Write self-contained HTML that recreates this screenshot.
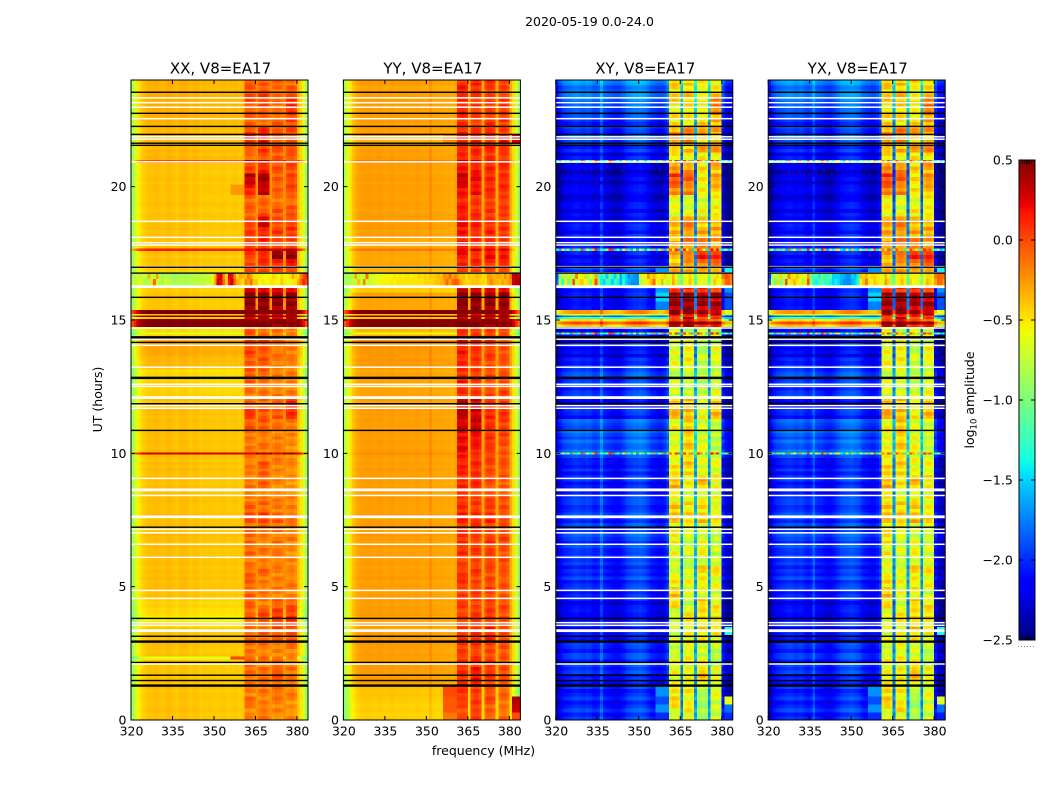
<!DOCTYPE html>
<html lang="en">
<head>
<meta charset="utf-8">
<style>
html,body{margin:0;padding:0;background:#fff;width:1050px;height:800px;overflow:hidden}
svg{display:block}
text{font-family:"DejaVu Sans","Liberation Sans",sans-serif;fill:#000}
</style>
</head>
<body>
<svg id="figure" xmlns="http://www.w3.org/2000/svg" width="1050" height="800" viewBox="0 0 1050 800">
  <text x="589.5" y="26" font-size="12.5" text-anchor="middle">2020-05-19 0.0-24.0</text>
  <text x="0" y="0" font-size="12.5" text-anchor="middle" transform="translate(102,399.5) rotate(-90)">UT (hours)</text>
  <text x="483.5" y="755" font-size="12.5" text-anchor="middle">frequency (MHz)</text>
  <text x="0" y="0" font-size="12.5" text-anchor="middle" transform="translate(974,400) rotate(-90)">log<tspan font-size="8.5" dy="2.5">10</tspan><tspan dy="-2.5"> amplitude</tspan></text>
  <g id="panels"></g>
  <g id="colorbar"></g>
</svg>
<script>
// ---- chart data: axis ticks and labels ----
const panelTitles = ["XX, V8=EA17", "YY, V8=EA17", "XY, V8=EA17", "YX, V8=EA17"];
const freqTicks = [320, 335, 350, 365, 380];
const hourTicks = [0, 5, 10, 15, 20];
const colorTicks = [0.5, 0.0, -0.5, -1.0, -1.5, -2.0, -2.5];
const colorTickLabels = ["0.5", "0.0", "\u22120.5", "\u22121.0", "\u22121.5", "\u22122.0", "\u22122.5"];

// ---- chart data: flagged integrations (hours UT) ----
const whiteGapHours = [23.33,23.15,22.98,22.55,21.87,21.78,20.93,18.70,18.10,17.90,17.81,17.0,16.77,14.70,14.28,14.05,13.23,12.59,12.51,11.79,11.69,9.06,8.42,7.15,7.02,6.59,6.10,4.86,4.56,3.65,3.55,2.10];
const whiteWideGapHours = [16.25,12.09,8.63,7.62,3.35];
const blackRowHours = [23.54,22.75,22.26,21.96,21.63,21.55,16.98,16.76,15.85,14.16,11.86,10.86,7.23,3.81,3.14,2.16,1.68,1.48];
const blackWideRowHours = [14.35,12.83,2.94,1.29];

// ---- chart data: frequency channels, 320..383 MHz ----
const channelMHz = [320,321,322,323,324,325,326,327,328,329,330,331,332,333,334,335,336,337,338,339,340,341,342,343,344,345,346,347,348,349,350,351,352,353,354,355,356,357,358,359,360,361,362,363,364,365,366,367,368,369,370,371,372,373,374,375,376,377,378,379,380,381,382,383];
// 0 = out of band, 1-4 = sub-bands, 5 = just below band, 6 = above band
const regionOfChannel = [0,0,0,0,0,0,0,0,0,0,0,0,0,0,0,0,0,0,0,0,0,0,0,0,0,0,0,0,0,0,0,0,0,0,0,0,5,5,5,5,5,1,1,1,1,0,2,2,2,2,0,3,3,3,3,0,4,4,4,4,0,6,6,6];

// ---- chart data: spectral shape per product (log10 offsets) ----
const xxProfile = [-.5,-.35,-.18,-.1,-.05,-.02,0,0,.01,.01,0,-.02,0,.02,.01,-.01,-.03,0,.01,.01,0,-.03,-.01,0,-.02,-.04,-.02,-.03,-.02,-.03,-.03,-.04,-.02,-.02,-.03,-.04,-.03,-.02,-.03,-.04,-.02,.02,.03,.02,-.02,.15,-.02,.03,.03,-.03,.15,-.02,.03,.02,-.02,.16,-.02,.02,.03,-.03,0,-.12,-.3,-.5];
const yyProfile = [-.55,-.4,-.25,-.12,-.05,-.02,0,0,.01,.01,0,0,.01,.01,0,-.01,0,.01,0,-.01,0,0,0,0,-.01,-.01,0,0,-.01,-.01,-.02,.05,-.01,-.02,-.02,-.02,-.03,-.03,-.03,-.04,-.02,.02,.04,.04,0,-.02,-.01,.03,.03,-.02,-.02,-.02,.04,.03,-.02,-.02,-.02,.03,.03,-.03,-.05,-.2,-.4,-.6];
const xyProfile = [-.3,-.15,-.05,0,.02,.05,.08,.1,.08,.05,.05,.08,.05,0,-.02,.02,.22,0,-.02,-.05,-.08,-.1,-.1,-.08,-.02,.05,.1,.12,.15,.15,.18,.15,.12,.05,-.02,-.05,-.08,-.1,-.1,-.05,.1,-.05,.02,.02,-.06,.3,-.05,.02,.02,-.06,.42,-.05,.02,.02,-.06,.38,-.05,.02,.02,-.06,-.05,-.25,-.3,-.3];
const yxProfile = [-.32,-.16,-.06,0,.03,.05,.07,.1,.09,.06,.04,.08,.06,.01,-.03,.02,.2,.01,-.02,-.04,-.08,-.11,-.1,-.07,-.01,.05,.1,.13,.14,.16,.17,.14,.12,.06,-.02,-.05,-.07,-.1,-.1,-.04,.08,-.05,.02,.02,-.06,.32,-.05,.02,.02,-.06,.4,-.05,.02,.02,-.06,.36,-.05,.02,.02,-.06,-.06,-.26,-.3,-.32];

// ---- chart data: fine row-to-row texture ----
const rowTexture = [.4,-.6,.9,-.2,-1,.5,.1,-.7,1,-.4,.3,-.9,.6,-.1,.8,-.5,-.3,.7,-.8,.2,1,-.6,-.2,.5,-.9,.4,.8,-.3,-.7,.1,.6];

// ---- chart data: irregular-row levels, read per row from the picture ----
const xxStormA = [-.8,-.75,-.7,-.6,-.75,-.85,-.8,-.5,-.1,-.7,-.75,-.9,-.6,-.75,-.8,-.85,-.85,-.8,-.8,-.85,-.8,-.8,-.75,-.8,-.8,-.75,-.8,-.7,-.7,-.65,-.3,.3,.2,-.1,-.4,.15,.3,-.1,-.3,-.4,-.5,-.2,-.3,-.1,-.4,-.4,-.6,-.5,-.55,-.6,-.5,-.5,-.55,-.55,-.4,-.5,-.6,-.6,-.5,-.5,-.3,-.1,.15,0];
const xxStormB = [-.85,-.8,-.75,-.8,-.7,-.8,-.35,-.75,-.8,-.3,-.8,-.85,-.8,-.8,-.85,-.9,-.85,-.85,-.8,-.85,-.85,-.8,-.8,-.8,-.75,-.8,-.8,-.75,-.7,-.7,-.35,.2,.3,-.2,-.45,.25,.2,-.2,-.45,-.3,-.35,-.4,-.15,-.3,-.5,-.5,-.5,-.55,-.6,-.55,-.55,-.45,-.5,-.6,-.45,-.55,-.55,-.5,-.3,-.45,-.5,-.2,0,.1];
const yyStormA = [-.85,-.85,-.8,-.75,-.7,-.4,-.75,-.2,-.7,-.75,-.65,-.65,-.6,-.55,-.55,-.55,-.55,-.5,-.55,-.5,-.5,-.5,-.5,-.5,-.5,-.5,-.5,-.5,-.5,-.45,-.45,-.45,-.45,-.4,-.4,-.35,-.3,-.1,-.3,-.1,-.05,-.1,-.3,-.4,-.45,-.45,-.4,-.4,-.4,-.45,-.45,-.5,-.3,-.2,-.3,-.35,-.4,-.3,-.35,-.3,-.2,.3,.35,.35];
const yyStormB = [-.9,-.85,-.85,-.8,-.3,-.75,-.7,-.75,-.1,-.7,-.7,-.65,-.6,-.6,-.6,-.55,-.55,-.55,-.5,-.55,-.5,-.55,-.5,-.5,-.55,-.5,-.5,-.45,-.5,-.45,-.5,-.4,-.45,-.4,-.35,-.4,-.2,-.25,-.1,-.3,-.2,-.3,-.4,-.35,-.5,-.4,-.45,-.4,-.35,-.4,-.5,-.45,-.25,-.3,-.35,-.3,-.3,-.35,-.2,-.35,-.1,.35,.4,.3];
const xyStormA = [-1.8,-.8,-1.3,-.6,-1,-.9,0,-.7,-.5,-.4,-.6,-.7,-.9,-.5,0,-1,-1.4,-1.5,-1.2,-1.3,-1.5,-1.2,-1.4,-1.6,-1.3,-1.5,-1.6,-1.7,-1.7,-1.7,-.8,-.7,-.65,-.5,-.35,-.1,-.6,-.7,-.35,-.65,-.8,-.55,-.3,-.5,-.9,-1.1,-.55,-.6,-.4,-.55,-1.2,-.55,-.6,-.7,-.7,-1.1,-.65,-.4,-.55,-.6,-.35,-.1,-.05,-.2];
const xyStormB = [-1.9,-1,-.8,-.9,-.5,-.8,-.85,-.2,-.6,-.65,-.45,-.9,-.6,-.8,-.3,-1.2,-1.3,-1.1,-1.5,-1,-1.3,-1.5,-1.1,-1.6,-1.4,-1.5,-1.7,-1.6,-1.7,-1.7,-.7,-.65,-.55,-.25,-.5,-.35,-.5,-.55,-.5,-.45,-.65,-.7,-.35,-.65,-.8,-1.1,-.6,-.55,-.45,-.6,-1.1,-.6,-.55,-.6,-.55,-1.1,-.7,-.5,-.45,-.7,-.15,0,-.1,-.15];
const yxStormA = [-1.9,-.7,-1.1,-.45,-1,-.85,0,-.7,-.5,-.35,-.5,-.55,-.85,-.5,0,-.9,-1.3,-1.4,-1.2,-1.1,-1.3,-1.2,-1.4,-1.5,-1.4,-1.5,-1.6,-1.7,-1.7,-1.7,-1.6,-1.5,-1.3,-.6,-.4,-.15,-.5,-.6,-.4,-.5,-.7,-.55,-.25,-.45,-.85,-1,-.55,-.5,-.35,-.55,-1.15,-.45,-.6,-.65,-.7,-1,-.55,-.35,-.45,-.55,-.3,-.1,-.1,-.25];
const yxStormB = [-2,-.95,-.75,-.85,-.45,-.75,-.75,-.2,-.5,-.5,-.4,-.75,-.55,-.65,-.25,-1.1,-1.2,-1.1,-1.4,-1,-1.2,-1.3,-1.1,-1.5,-1.5,-1.5,-1.6,-1.6,-1.7,-1.7,-1.5,-1.6,-1.4,-.4,-.45,-.35,-.55,-.45,-.45,-.5,-.55,-.65,-.35,-.55,-.85,-1.1,-.55,-.5,-.45,-.55,-1.1,-.55,-.55,-.55,-.55,-1.05,-.65,-.45,-.45,-.65,-.15,-.05,-.1,-.1];
const xyDottedRow = [-1.2,-1.6,-.5,-1.3,-.9,-1.6,-.3,-1.4,-1.1,0,-1.5,-.7,-1.3,-.4,.1,-1.6,-1.2,-1.4,-.9,.1,0,-1.5,-1.1,-1.6,-.7,-.3,-1.3,-1.5,-.6,-1.6,-.5,-1.2,-1.6,-.9,-1.4,-.3,-1.5,-1,-.3,-1.6,-.4,-.1,-.6,.1,-1.6,-.3,.1,-.5,-.2,-1.5,-.4,.1,-.2,-.6,-1.4,-.2,.2,-.3,.1,-1.3,-1.3,-.8,-1.5,-1.2];
const yxDottedRow = [-1.3,-.8,-1.5,-.4,-1.4,-1,-1.6,-.1,-1.3,-.6,-1.5,-.2,-1.2,-1.4,.1,-.9,-1.6,-.5,-1.3,.05,-.3,-1.6,-.9,-1.4,-.5,-.6,-1.4,-1.6,-.7,-1.5,-.4,-1.4,-1.5,-.7,-1.3,-.4,-1.4,-.7,-.1,-1.4,-.5,-.2,-.5,0,-1.5,-.4,0,-.4,-.3,-1.4,-.5,0,-.3,-.5,-1.3,-.3,.1,-.2,0,-1.2,-1.3,-.7,-1.5,-1.3];

// Row start hours (each row runs up to the next one; the last ends at 24)
const rowStartHours = [0,.3,.6,.9,1.3,1.6,2,2.28,2.4,2.8,3.2,3.5,3.7,3.9,4.2,4.6,5,5.4,5.8,6.2,6.6,7,7.4,7.8,8.2,8.7,9.2,9.7,9.96,10.04,10.4,10.9,11.3,11.7,12.1,12.5,12.85,13.2,13.6,14,14.3,14.46,14.55,14.75,14.85,14.95,15.05,15.12,15.18,15.24,15.38,15.7,16.05,16.3,16.55,16.8,17,17.3,17.6,17.7,18.1,18.5,18.9,19.3,19.7,20.1,20.5,20.9,21.02,21.3,21.65,21.95,22.3,22.7,23.1,23.5,23.8];

// Each row: [out-of-band, sub-band 1, 2, 3, 4, optional below-band, optional above-band], or 64 channel values
const xxLevels = [
[-.33,-.12,-.03,-.15,-.15],[-.33,-.15,-.12,-.12,-.18],[-.33,-.02,-.12,-.12,-.15],[-.33,-.12,-.08,-.05,-.12],
[-.33,-.1,-.08,0,-.1],[-.34,-.05,-.05,.05,-.08],[-.35,-.05,-.08,-.05,-.1],[-.55,0,-.08,-.1,-.15,.02],
[-.33,-.08,-.1,-.15,-.12],[-.33,-.05,-.05,0,.03],[-.33,-.02,0,.05,.05],[-.42,-.05,-.02,.08,.08],
[-.5,-.02,.05,.18,.22],[-.42,0,.05,.08,.08],[-.38,-.02,-.08,0,0],[-.32,-.05,-.1,-.12,-.12],
[-.32,-.02,-.1,-.1,-.1],[-.32,-.05,-.05,-.12,-.15],[-.32,-.1,-.12,-.08,-.15],[-.32,-.05,-.1,-.1,-.15],
[-.32,-.02,-.12,-.08,-.12],[-.32,-.05,-.1,-.05,-.12],[-.32,.05,.12,-.02,-.05],[-.32,-.02,-.05,-.1,-.12],
[-.32,-.1,-.08,-.12,-.15],[-.32,-.1,-.02,-.15,-.18],[-.32,-.12,0,-.12,-.15],[-.32,-.12,-.08,-.12,-.15],
[.3,.3,.3,.3,.3],[-.32,-.12,-.08,-.12,-.15],[-.32,-.08,-.1,-.12,-.15],[-.32,.02,0,-.05,-.08],
[-.32,.1,.05,0,.15],[-.33,-.05,-.05,-.02,.18],[-.38,-.08,-.05,-.1,-.12],[-.38,-.02,-.05,-.08,-.1],
[-.4,.02,-.02,-.1,-.12],[-.3,-.02,0,-.1,-.12],[-.25,.08,.02,-.08,-.12],[-.25,.05,.08,-.05,-.1],
[-.38,.02,-.05,-.1,-.12],[-.6,.1,0,-.1,-.1],[-.4,0,-.05,-.1,-.1],[.5,.45,.45,.45,.45],
[.5,.45,.45,.45,.45],[.5,.45,.45,.45,.45],[-.35,.3,.3,.3,.3],[.5,.45,.45,.45,.45],
[-.35,.3,.3,.3,.3],[.5,.45,.45,.45,.45],[-.34,.42,.45,.42,.42],[-.34,.45,.45,.42,.42],
[-.36,.28,.3,.25,.25],xxStormA,xxStormB,[-.38,.05,.05,.1,.1],
[-.33,.05,.12,.2,.22],[-.33,.1,.2,.45,.45],[.2,.25,.3,.35,.3],[-.33,.08,.18,.05,.1],
[-.33,.12,.2,.1,.12],[-.33,.05,.28,.08,.1],[-.33,-.02,.02,0,.02],[-.33,-.05,-.02,-.08,-.05],
[-.33,.22,.3,-.02,.05,-.25],[-.33,.32,.38,0,.08],[-.33,.1,.18,.02,.05],[.05,.25,.3,.2,.1],
[-.3,-.1,.05,.02,.05],[-.3,.02,.08,.02,0],[-.3,.22,.22,.05,-.02],[-.3,.05,.15,0,.08],
[-.28,0,-.05,0,.05],[-.27,-.02,.02,-.05,.18],[-.27,.05,.12,-.02,.12],[-.28,-.02,.02,-.05,0],
[-.28,.05,0,-.05,-.05]
];
const yyLevels = [
[-.38,0,.08,-.05,-.1,-.15,0],[-.38,-.02,.02,-.05,-.12,-.05,.3],[-.36,.05,.05,0,-.1,-.05,.38],[-.34,.08,.05,0,-.08,0],
[-.22,.08,.15,.05,-.02],[-.22,.1,.18,.1,0],[-.22,.05,.1,.05,0],[-.22,.05,.08,0,0],
[-.22,.05,.05,0,-.02],[-.22,.08,.1,.15,.02],[-.22,.1,.1,.12,.02],[-.22,.05,.08,.05,.02],
[-.24,.05,.1,.1,.05],[-.22,.05,.05,.05,0],[-.22,.05,.05,.05,0],[-.22,.02,.05,.03,-.03],
[-.22,.08,.02,.03,-.02],[-.22,.05,.05,0,-.03],[-.22,.02,.02,.05,0],[-.22,.08,.05,.02,0],
[-.22,.1,.03,.08,.03],[-.22,.08,.08,.05,0],[-.22,.15,.12,.1,.02],[-.22,.08,.05,.05,0],
[-.22,.08,.05,.02,-.02],[-.22,.1,.12,0,-.03],[-.22,.12,.1,.02,-.02],[-.22,.15,.1,.03,-.02],
[-.16,.15,.12,.05,0],[-.22,.2,.15,.05,0],[-.22,.22,.22,.08,.02],[-.22,.25,.28,.1,.05],
[-.22,.3,.3,.1,.08],[-.22,.28,.25,.08,.05],[-.24,.1,.1,.02,.02],[-.24,.12,.08,.02,0],
[-.24,.1,.05,0,-.02],[-.2,.1,.05,.02,-.02],[-.2,.15,.1,.05,-.02],[-.18,.15,.18,.08,0],
[-.25,.1,.08,.03,0],[-.55,.12,.1,.05,.02],[-.3,.08,.08,.02,.02],[.5,.45,.45,.45,.45],
[.5,.45,.45,.45,.45],[.5,.45,.45,.45,.45],[-.35,.3,.3,.3,.3],[.5,.45,.45,.45,.45],
[-.35,.3,.3,.3,.3],[.5,.45,.45,.45,.45],[-.24,.45,.45,.42,.42],[-.24,.48,.45,.42,.42],
[-.36,.3,.3,.25,.25],yyStormA,yyStormB,[-.3,.02,.02,.05,.05],
[-.25,.12,.1,.12,.1],[-.25,.18,.12,.2,.18],[-.1,.25,.25,.28,.2],[-.25,.15,.1,.1,.08],
[-.22,.18,.12,.12,.08],[-.22,.2,.15,.1,.08],[-.22,.15,.1,.05,.05],[-.22,.1,.08,.05,.05],
[-.22,.22,.18,.1,.1],[-.22,.28,.22,.12,.12],[-.22,.2,.15,.1,.1],[-.1,.25,.25,.2,.15],
[-.22,.1,.12,.1,.08],[-.22,.12,.1,.1,.05],[-.28,.18,.15,.12,.15,-.2,.25],[-.22,.1,.08,.08,.05],
[-.22,.1,.05,.08,.05],[-.22,.12,.05,.05,.08],[-.22,.1,.08,.05,.05],[-.24,.12,.1,.05,.03],
[-.22,.1,.12,.08,.05]
];
const xyLevels = [
[-1.95,-.65,-.5,-.75,-.65,-2,-2],[-1.95,-.5,-.45,-.75,-.6,-1.7,-1.8],[-1.95,-.35,-.55,-.85,-.6,-1.9,-.6],[-2,-.45,-.45,-.7,-.55,-1.7],
[-2,-.55,-.55,-.4,-.6],[-1.95,-.5,-.5,-.3,-.55],[-1.95,-.55,-.5,-.5,-.7],[-1.85,-.55,-.5,-.6,-.7],
[-1.95,-.65,-.5,-.65,-.7],[-2,-.6,-.55,-.45,-.55],[-2.05,-.6,-.55,-.4,-.45,-2.1,-1.3],[-2,-.6,-.5,-.5,-.5],
[-2.05,-.65,-.4,-.35,-.35],[-2.1,-.55,-.5,-.45,-.45],[-2.1,-.4,-.65,-.35,-.5],[-1.95,-.35,-.6,-.55,-.6],
[-1.95,-.45,-.5,-.45,-.55],[-1.95,-.6,-.65,-.4,-.45],[-1.95,-.6,-.7,-.6,-.65],[-1.9,-.55,-.6,-.5,-.6],
[-1.9,-.45,-.65,-.55,-.7],[-1.9,-.5,-.6,-.6,-.6],[-1.9,-.3,-.35,-.35,-.4],[-1.9,-.35,-.45,-.4,-.55],
[-1.95,-.5,-.55,-.55,-.55],[-1.95,-.3,-.5,-.3,-.5],[-2,-.45,-.4,-.55,-.55],[-1.9,-.55,-.35,-.6,-.6],
xyDottedRow,[-1.8,-.6,-.35,-.55,-.65],[-1.8,-.55,-.35,-.6,-.7],[-1.8,-.5,-.4,-.6,-.65],
[-2,-.3,-.25,-.55,-.3],[-2.05,-.4,-.35,-.6,-.35],[-1.95,-.6,-.6,-.65,-.6],[-1.85,-.65,-.65,-.7,-.65],
[-1.85,-.7,-.6,-.7,-.7],[-2,-.55,-.5,-.65,-.6],[-2.1,-.55,-.45,-.7,-.55],[-2.05,-.65,-.45,-.75,-.6],
[-2,-.65,-.65,-.7,-.65],xyDottedRow,[-2,-.6,-.7,-.7,-.7],[-.45,.3,.35,.25,.25],
[.1,.45,.45,.4,.4],[-.4,.2,.3,.1,.1],[-1.2,.2,.3,.1,.1],[-1.6,.1,.2,.1,.1],
[-.6,.3,.35,.3,.3],[-.3,.42,.45,.4,.38],[-2,.4,.45,.38,.38,-1.75,-1.9],[-2.05,.42,.45,.38,.34,-1.5,-1.9],
[-2,.18,.22,.18,.14,-1.7,-1.7],xyStormA,xyStormB,[-1.9,-.25,-.25,-.2,-.2,-1.7,-1.4],
[-2.05,-.35,-.25,-.05,-.05],[-2.05,-.25,-.05,.18,.18],xyDottedRow,[-2.05,-.3,-.1,-.1,-.15],
[-2.05,-.25,-.15,-.25,-.25],[-2.1,-.3,-.1,-.3,-.3],[-2.1,-.55,-.55,-.55,-.5],[-2.15,-.55,-.6,-.6,-.5],
[-2.15,-.05,-.15,-.5,-.35],[-2.2,.08,0,-.45,-.2],[-2.2,-.15,-.2,-.45,-.3],xyDottedRow,
[-2.1,-.5,-.45,-.45,-.45],[-1.95,-.3,-.35,-.25,-.2],[-1.85,-.1,-.1,-.35,-.4],[-1.9,-.25,-.15,-.25,-.2],
[-1.95,-.4,-.45,-.4,-.3],[-1.8,-.5,-.45,-.5,-.05],[-1.75,-.35,-.3,-.5,-.15],[-1.7,-.45,-.4,-.55,-.45],
[-1.65,-.25,-.4,-.5,-.5]
];
const yxLevels = [
[-1.98,-.6,-.5,-.7,-.65,-2,-2.05],[-1.95,-.5,-.4,-.75,-.55,-1.7,-1.8],[-1.95,-.3,-.5,-.85,-.6,-1.9,-.65],[-2,-.4,-.45,-.65,-.55,-1.7],
[-2,-.5,-.5,-.35,-.55],[-1.95,-.5,-.45,-.25,-.5],[-1.95,-.5,-.5,-.45,-.65],[-1.85,-.5,-.5,-.6,-.65],
[-1.95,-.6,-.5,-.6,-.7],[-2,-.55,-.5,-.4,-.55],[-2.05,-.55,-.55,-.35,-.45,-2.1,-1.35],[-2,-.55,-.5,-.45,-.5],
[-2.05,-.6,-.4,-.3,-.35],[-2.1,-.5,-.5,-.45,-.4],[-2.1,-.4,-.6,-.35,-.45],[-1.95,-.35,-.55,-.5,-.6],
[-1.95,-.4,-.5,-.45,-.5],[-1.95,-.55,-.6,-.4,-.45],[-1.95,-.55,-.65,-.55,-.6],[-1.9,-.5,-.6,-.5,-.55],
[-1.9,-.4,-.6,-.55,-.65],[-1.9,-.45,-.55,-.55,-.6],[-1.9,-.3,-.3,-.3,-.35],[-1.9,-.35,-.4,-.35,-.5],
[-1.95,-.45,-.5,-.5,-.55],[-1.95,-.3,-.45,-.3,-.45],[-2,-.4,-.4,-.5,-.5],[-1.9,-.5,-.35,-.55,-.6],
yxDottedRow,[-1.8,-.55,-.35,-.5,-.6],[-1.8,-.5,-.35,-.55,-.65],[-1.8,-.5,-.35,-.55,-.6],
[-2,-.25,-.25,-.5,-.3],[-2.05,-.35,-.35,-.55,-.35],[-1.95,-.55,-.55,-.6,-.55],[-1.85,-.6,-.6,-.65,-.6],
[-1.85,-.65,-.55,-.7,-.65],[-2,-.5,-.5,-.6,-.55],[-2.1,-.5,-.45,-.65,-.5],[-2.05,-.6,-.45,-.7,-.55],
[-2,-.6,-.6,-.65,-.6],yxDottedRow,[-2,-.55,-.65,-.65,-.65],[-.45,.3,.35,.25,.25],
[.1,.45,.45,.4,.4],[-.4,.2,.3,.1,.1],[-1.2,.2,.3,.1,.1],[-1.6,.1,.2,.1,.1],
[-.6,.3,.35,.3,.3],[-.3,.42,.45,.4,.38],[-2,.38,.45,.36,.36,-1.75,-1.9],[-2.05,.42,.43,.38,.34,-1.5,-1.9],
[-2,.18,.2,.15,.14,-1.7,-1.7],yxStormA,yxStormB,[-1.9,-.25,-.2,-.2,-.15,-1.7,-1.4],
[-2.05,-.3,-.25,-.05,0],[-2.05,-.25,0,.16,.18],yxDottedRow,[-2.05,-.25,-.1,-.1,-.15],
[-2.05,-.2,-.15,-.25,-.25],[-2.1,-.25,-.1,-.25,-.3],[-2.1,-.5,-.55,-.5,-.5],[-2.15,-.5,-.55,-.55,-.45],
[-2.15,0,-.15,-.45,-.3],[-2.2,.1,0,-.4,-.15],[-2.2,-.1,-.15,-.4,-.25],yxDottedRow,
[-2.1,-.45,-.45,-.4,-.4],[-1.95,-.25,-.3,-.25,-.15],[-1.85,-.05,-.1,-.3,-.35],[-1.9,-.25,-.1,-.2,-.15],
[-1.95,-.35,-.4,-.4,-.25],[-1.8,-.45,-.4,-.45,0],[-1.75,-.35,-.25,-.45,-.15],[-1.7,-.4,-.35,-.5,-.4],
[-1.65,-.25,-.35,-.45,-.45]
];

// ---- calibration per product: level offsets and texture strength ----
const panelLowShift = [-.05, -.05, -.1, -.1];
const panelBandShift = [-.07, -.03, -.08, -.08];
const panelLowTexture = [.015, .012, .1, .1];
const panelBandTexture = [.09, .08, .15, .15];

// ---- layout ----
const SVGNS = "http://www.w3.org/2000/svg";
const plotTop = 80, plotBottom = 720, plotWidth = 177;
const panelLefts = [131, 343.4, 555.8, 768.2];
const panelProfiles = [xxProfile, yyProfile, xyProfile, yxProfile];
const panelLevels = [xxLevels, yyLevels, xyLevels, yxLevels];
const panelKeys = ["xx", "yy", "xy", "yx"];
const freqMin = 320, freqMax = 384, hourMax = 24, colorMin = -2.5, colorMax = 0.5;
const cbarLeft = 1019, cbarRight = 1035, cbarTop = 160, cbarBottom = 640;
const stripHours = 0.13;

function xScale(left, mhz) { return left + (mhz - freqMin) * plotWidth / (freqMax - freqMin); }
function yScale(hour) { return plotBottom - hour * (plotBottom - plotTop) / hourMax; }
function cbarScale(v) { return cbarBottom - (v - colorMin) * (cbarBottom - cbarTop) / (colorMax - colorMin); }
function piece(t, pts) {
  if (t <= pts[0][0]) return pts[0][1];
  for (let i = 1; i < pts.length; i++) {
    if (t <= pts[i][0]) {
      const a = pts[i - 1], b = pts[i];
      return a[1] + (b[1] - a[1]) * (t - a[0]) / (b[0] - a[0]);
    }
  }
  return pts[pts.length - 1][1];
}
function jet(v) {
  const t = Math.max(0, Math.min(1, (v - colorMin) / (colorMax - colorMin)));
  const r = piece(t, [[0, 0], [.35, 0], [.66, 1], [.89, 1], [1, .5]]);
  const g = piece(t, [[0, 0], [.125, 0], [.375, 1], [.64, 1], [.91, 0], [1, 0]]);
  const b = piece(t, [[0, .5], [.11, 1], [.34, 1], [.65, 0], [1, 0]]);
  return "rgb(" + Math.round(r * 255) + "," + Math.round(g * 255) + "," + Math.round(b * 255) + ")";
}
function make(tag, parent, attrs) {
  const el = document.createElementNS(SVGNS, tag);
  for (const k in attrs) el.setAttribute(k, attrs[k]);
  parent.appendChild(el);
  return el;
}
function cellValue(p, rowIndex, chIndex, stripIndex) {
  const levels = panelLevels[p], profile = panelProfiles[p];
  const row = levels[rowIndex];
  if (row.length === channelMHz.length) return row[chIndex];
  const region = regionOfChannel[chIndex];
  if (region >= 5 && row[region] !== undefined) return row[region];
  const base = region >= 5 ? 0 : region;
  const level = row[base];
  const texture = rowTexture[(stripIndex + base * 5) % rowTexture.length];
  const shift = level < 0.25 ? (base === 0 ? panelLowShift[p] : panelBandShift[p]) : 0;
  const amount = base === 0 ? panelLowTexture[p] : panelBandTexture[p];
  return level + profile[chIndex] + shift + texture * amount;
}

// ---- panels ----
const panelsRoot = document.getElementById("panels");
panelTitles.forEach(function (title, p) {
  const left = panelLefts[p], key = panelKeys[p];
  const g = make("g", panelsRoot, {});
  
  

  const cells = make("g", g, { "shape-rendering": "crispEdges" });
  
  
  let stripIndex = 0;
  rowStartHours.forEach(function (startHour, r) {
    const endHour = r + 1 < rowStartHours.length ? rowStartHours[r + 1] : hourMax;
    const strips = Math.max(1, Math.round((endHour - startHour) / stripHours));
    for (let s = 0; s < strips; s++) {
      const h0 = startHour + (endHour - startHour) * s / strips;
      const h1 = startHour + (endHour - startHour) * (s + 1) / strips;
      const y0 = yScale(h1), y1 = yScale(h0);
      channelMHz.forEach(function (mhz, c) {
        const x0 = xScale(left, mhz), x1 = xScale(left, mhz + 1);
        const cell = make("rect", cells, { x: x0.toFixed(2), y: y0.toFixed(2), width: (x1 - x0 + 0.3).toFixed(2), height: (y1 - y0 + 0.3).toFixed(2), fill: jet(cellValue(p, r, c, stripIndex)) });
        
        
      });
      stripIndex++;
    }
  });

  function flagRows(hours, colour, thickness, name) {
    hours.forEach(function (h) {
      const line = make("rect", g, { x: left, y: (yScale(h) - thickness / 2).toFixed(2), width: plotWidth, height: thickness, fill: colour });
      
      
    });
  }
  flagRows(whiteGapHours, "#fff", 1.5, "missing-data-row");
  flagRows(whiteWideGapHours, "#fff", 2.8, "missing-data-row");
  flagRows(blackRowHours, "#000", 1.4, "flagged-row");
  flagRows(blackWideRowHours, "#000", 2.4, "flagged-row");

  const frame = make("rect", g, { x: left, y: plotTop, width: plotWidth, height: plotBottom - plotTop, fill: "none", stroke: "#000", "stroke-width": 1 });
  
  

  const titleEl = make("text", g, { x: left + plotWidth / 2 + 1, y: 73.5, "font-size": 15, "text-anchor": "middle" });
  titleEl.textContent = title;
  
  

  freqTicks.forEach(function (f) {
    const x = xScale(left, f);
    const tk = make("path", g, { d: "M" + x + " " + plotBottom + "v-4M" + x + " " + plotTop + "v4", stroke: "#000", "stroke-width": 1, fill: "none" });
    
    
    const lb = make("text", g, { x: x + 0.5, y: 735.5, "font-size": 12.5, "text-anchor": "middle" });
    lb.textContent = String(f);
    
    
  });
  hourTicks.forEach(function (h) {
    const y = yScale(h);
    const tk = make("path", g, { d: "M" + left + " " + y + "h4M" + (left + plotWidth) + " " + y + "h-4", stroke: "#000", "stroke-width": 1, fill: "none" });
    
    
    const lb = make("text", g, { x: left - 4.5, y: y + 4.5, "font-size": 12.5, "text-anchor": "end" });
    lb.textContent = String(h);
    
    
  });
});

// ---- colorbar ----
const cbarRoot = document.getElementById("colorbar");
const cbarGrad = make("g", cbarRoot, { "shape-rendering": "crispEdges" });


for (let py = cbarTop; py < cbarBottom; py += 2) {
  const v = colorMax - (py + 1 - cbarTop) * (colorMax - colorMin) / (cbarBottom - cbarTop);
  const stripe = make("rect", cbarGrad, { x: cbarLeft, y: py, width: cbarRight - cbarLeft, height: 2.2, fill: jet(v) });
  
  
}
const cbarFrame = make("rect", cbarRoot, { x: cbarLeft, y: cbarTop, width: cbarRight - cbarLeft, height: cbarBottom - cbarTop, fill: "none", stroke: "#000", "stroke-width": 1 });


colorTicks.forEach(function (v, i) {
  const y = cbarScale(v);
  const tk = make("path", cbarRoot, { d: "M" + cbarLeft + " " + y + "h4M" + cbarRight + " " + y + "h-4", stroke: "#000", "stroke-width": 1, fill: "none" });
  
  
  const lb = make("text", cbarRoot, { x: 1012.8, y: y + 4.5, "font-size": 12.5, "text-anchor": "end" });
  lb.textContent = colorTickLabels[i];
  
  
});
const cbarMinor = make("path", cbarRoot, { d: "M1022.5 160v4M1024.9 160v4M1027 160v4M1029.2 160v4M1031.5 160v4M1022.5 640v-4M1024.9 640v-4M1027 640v-4M1029.2 640v-4M1031.5 640v-4", stroke: "#000", "stroke-width": 1, fill: "none" });


const cbarDots = make("line", cbarRoot, { x1: 1018, y1: 646.5, x2: 1035, y2: 646.5, stroke: "#888", "stroke-width": 1, "stroke-dasharray": "1 2" });


</script>
</body>
</html>
